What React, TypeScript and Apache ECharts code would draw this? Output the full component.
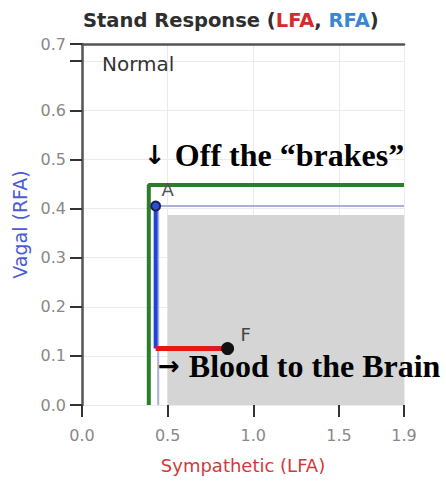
import React, { useEffect, useRef } from "react";
import * as echarts from "echarts";

// ---- data ----
const xMax = 1.88;
const yMax = 0.735;
const xInterval = 0.5;
const yInterval = 0.1;
const xTickDecimals = 1;
const yTopLabel = "0.7";

// gray "normal" zone: [x0, y0, x1, y1]
const normalZone = [[0.5, 0, 1.88, 0.387]];
// lavender boundary line
const normalBoundary = [[0.445, 0], [0.445, 0.405], [1.88, 0.405]];
// green threshold line
const thresholdLine = [[0.39, 0], [0.39, 0.448], [1.88, 0.448]];
// vagal drop (blue) and sympathetic rise (red)
const vagalPath = [[0.43, 0.405], [0.43, 0.115]];
const sympPath = [[0.43, 0.115], [0.85, 0.115]];
const pointA = { name: "A", value: [0.43, 0.405] };
const pointF = { name: "F", value: [0.85, 0.115] };

const titleParts = ["Stand Response (", "LFA", ", ", "RFA", ")"];
const xName = "Sympathetic (LFA)";
const yName = "Vagal (RFA)";
const regionLabel = "Normal";
const note1Arrow = "\u2193";
const note1Text = "Off the \u201Cbrakes\u201D";
const note2Arrow = "\u2192";
const note2Text = "Blood to the Brain";

const SANS = '"DejaVu Sans", Verdana, sans-serif';
const SERIF = '"Liberation Serif", "Times New Roman", serif';

export default function App() {
  const ref = useRef<HTMLDivElement>(null);
  useEffect(() => {
    document.body.style.margin = "0";
    if (!ref.current) return;
    const chart = echarts.init(ref.current, null, { renderer: "svg" });
    const noteRich = {
      a: { fontFamily: SANS, fontWeight: "bold", fontSize: 26, fill: "#000", color: "#000" },
      t: { fontFamily: SERIF, fontWeight: "bold", fontSize: 32, fill: "#000", color: "#000" },
    };
    const option: any = {
      animation: false,
      backgroundColor: "#ffffff",
      title: {
        text: `{d|${titleParts[0]}}{r|${titleParts[1]}}{d|${titleParts[2]}}{b|${titleParts[3]}}{d|${titleParts[4]}}`,
        left: 83,
        top: 10,
        padding: 0,
        textStyle: {
          rich: {
            d: { fontFamily: SANS, fontWeight: "bold", fontSize: 19.5, color: "#2e2e2e" },
            r: { fontFamily: SANS, fontWeight: "bold", fontSize: 19.5, color: "#d42a2a" },
            b: { fontFamily: SANS, fontWeight: "bold", fontSize: 19.5, color: "#3a86d4" },
          },
        },
      },
      grid: { left: 82, right: 42, top: 44, bottom: 76, containLabel: false, outerBoundsMode: "none" },
      xAxis: [
        {
          type: "value",
          min: 0,
          max: xMax,
          interval: xInterval,
          offset: 2,
          name: xName,
          nameLocation: "middle",
          nameGap: 49,
          nameTextStyle: { fontFamily: SANS, fontSize: 18, color: "#cf3a3a" },
          axisLine: { show: false },
          axisTick: { show: true, length: 12, lineStyle: { color: "#333", width: 2 } },
          axisLabel: {
            margin: 20,
            fontFamily: SANS,
            fontSize: 16,
            color: "#888",
            formatter: (v: number) => v.toFixed(xTickDecimals),
          },
          splitLine: { show: true, lineStyle: { color: "#ebebeb", width: 1 } },
        },
        {
          type: "value",
          position: "top",
          min: 0,
          max: xMax,
          interval: xInterval,
          axisLine: { show: true, lineStyle: { color: "#555", width: 2.5 } },
          axisTick: { show: false },
          axisLabel: { show: false },
          splitLine: { show: false },
        },
      ],
      yAxis: {
        type: "value",
        min: 0,
        max: yMax,
        interval: yInterval,
        name: yName,
        nameLocation: "middle",
        nameGap: 53,
        nameTextStyle: { fontFamily: SANS, fontSize: 19, color: "#4a5bd6" },
        axisLine: { show: true, lineStyle: { color: "#555", width: 2.5 } },
        axisTick: { show: true, length: 12, lineStyle: { color: "#333", width: 2 } },
        axisLabel: {
          margin: 16,
          fontFamily: SANS,
          fontSize: 16,
          color: "#888",
          formatter: (v: number) => {
            if (v > yMax - 0.01) return yTopLabel;
            if (v > 0.69) return "";
            return v.toFixed(1);
          },
        },
        splitLine: { show: true, lineStyle: { color: "#ebebeb", width: 1 } },
      },
      graphic: [
        {
          type: "text",
          x: 102,
          y: 64,
          style: { text: regionLabel, font: `20px ${SANS}`, fill: "#333", verticalAlign: "middle" },
          z: 100,
        },
        {
          type: "text",
          x: 144,
          y: 155,
          style: {
            text: `{a|${note1Arrow} }{t|${note1Text}}`,
            rich: noteRich,
            fill: "#000",
            verticalAlign: "middle",
          },
          z: 100,
        },
        {
          type: "text",
          x: 158,
          y: 366,
          style: {
            text: `{a|${note2Arrow} }{t|${note2Text}}`,
            rich: noteRich,
            fill: "#000",
            verticalAlign: "middle",
          },
          z: 100,
        },
      ],
      series: [
        {
          type: "custom",
          z: 1,
          silent: true,
          data: normalZone,
          encode: { x: [0, 2], y: [1, 3] },
          renderItem: (_p: any, api: any) => {
            const p0 = api.coord([api.value(0), api.value(1)]);
            const p1 = api.coord([api.value(2), api.value(3)]);
            return {
              type: "rect",
              shape: { x: p0[0], y: p1[1], width: p1[0] - p0[0], height: p0[1] - p1[1] },
              style: { fill: "#d5d5d5" },
            };
          },
        },
        {
          type: "line",
          z: 2,
          data: normalBoundary,
          symbol: "none",
          lineStyle: { color: "#aab0d8", width: 2 },
        },
        {
          type: "line",
          z: 3,
          data: thresholdLine,
          symbol: "none",
          lineStyle: { color: "#2a7d2a", width: 4 },
        },
        {
          type: "line",
          z: 4,
          data: vagalPath,
          symbol: "none",
          lineStyle: { color: "#1f45d8", width: 4 },
        },
        {
          type: "line",
          z: 5,
          data: sympPath,
          symbol: "none",
          lineStyle: { color: "#e41818", width: 5 },
        },
        {
          type: "scatter",
          z: 6,
          data: [pointA],
          symbolSize: 9,
          itemStyle: { color: "#2a4fd8", borderColor: "#1a2050", borderWidth: 2, opacity: 1 },
          label: {
            show: true,
            formatter: "{b}",
            position: "inside",
            offset: [12, -17],
            fontFamily: SANS,
            fontSize: 18,
            color: "#555",
          },
        },
        {
          type: "scatter",
          z: 6,
          data: [pointF],
          symbolSize: 13,
          itemStyle: { color: "#111", opacity: 1 },
          label: {
            show: true,
            formatter: "{b}",
            position: "inside",
            offset: [18, -14],
            fontFamily: SANS,
            fontSize: 18,
            color: "#444",
          },
        },
      ],
    };
    chart.setOption(option);
    return () => chart.dispose();
  }, []);
  return <div ref={ref} style={{ width: 446, height: 481 }} />;
}
